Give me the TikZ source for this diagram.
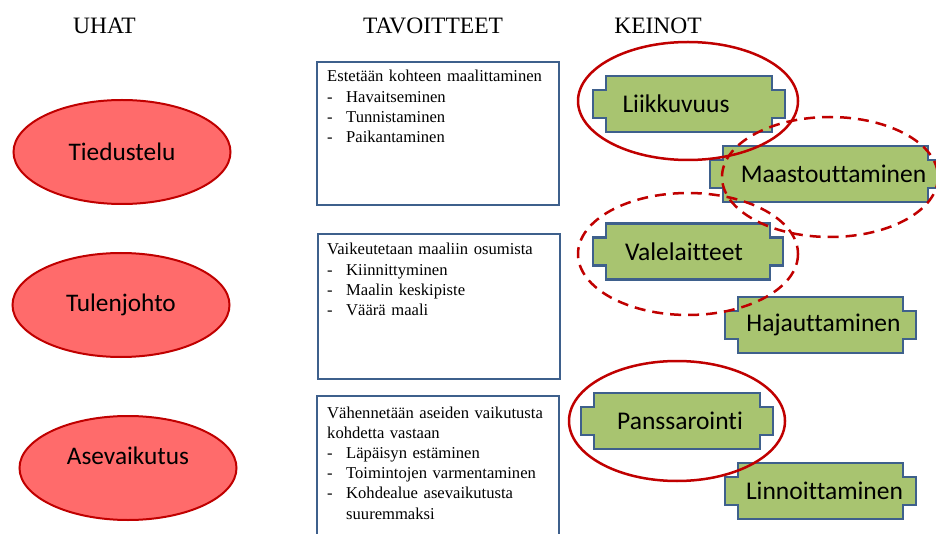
\documentclass[tikz,border=0pt]{standalone}
\usepackage{fontspec}
\setmainfont{Liberation Serif}
\newfontfamily\calibri[RawFeature={-liga}]{Carlito}
\usepackage{xcolor}
\definecolor{uhkapuna}{RGB}{255,107,107}
\definecolor{tummapuna}{RGB}{192,0,0}
\definecolor{keinovihrea}{RGB}{168,196,112}
\definecolor{reunasini}{RGB}{62,96,140}
\newcommand\kohta{\makebox[19pt][l]{-}}
\usetikzlibrary{positioning,shapes,calc}
\pgfdeclarelayer{bg}
\pgfsetlayers{bg,main}

\begin{document}
\begin{tikzpicture}[x = 1pt, y = -1pt,
  otsikko/.style = {anchor = base, inner sep = 0pt, font = \fontsize{23.5}{28}\selectfont},
  uhka/.style = {ellipse, draw = tummapuna, line width = 2pt, fill = uhkapuna, minimum width = 217pt, minimum height = 104pt, inner sep = 0pt, font = \calibri\fontsize{25.3}{28}\selectfont},
  tavoite/.style = {draw = reunasini, line width = 2pt, anchor = north west, minimum width = 242pt, inner sep = 0pt},
  tavteksti/.style = {anchor = base west, text width = 228pt, align = left, inner sep = 0pt, font = \fontsize{16.6}{20.2}\selectfont},
  keino/.style = {minimum height = 56pt, inner sep = 0pt, outer sep = 0pt, font = \calibri\fontsize{25.5}{28}\selectfont},
  keinoreuna/.style = {draw = reunasini, line width = 2.5pt, fill = keinovihrea},
  valinta/.style = {draw = tummapuna, line width = 2.5pt},
  katko/.style = {dash pattern = on 11pt off 7pt}]
\useasboundingbox (0,0) rectangle (936,534);
\node[otsikko] (uhat) at (104.5,34) {UHAT};
\node[otsikko] (tavoitteet) at (433,34) {TAVOITTEET};
\node[otsikko] (keinot) at (658,34) {KEINOT};
\node[uhka] (tied) at (122,152) {Tiedustelu};
\node[uhka] (tule) at (121,305) {Tulenjohto};
\node[uhka, text depth = 25pt] (ase) at (128,468) {Asevaikutus};
\node[tavoite, minimum height = 143pt] (tav1) at (316,61) {};
\node[tavoite, minimum height = 145pt] (tav2) at (317,233) {};
\node[tavoite, minimum height = 160pt] (tav3) at (316,395) {};
\node[tavteksti] (tav1teksti) at (327,82) {Estetään kohteen maalittaminen\\ \kohta Havaitseminen\\ \kohta Tunnistaminen\\ \kohta Paikantaminen};
\node[tavteksti] (tav2teksti) at (327,255) {Vaikeutetaan maaliin osumista\\ \kohta Kiinnittyminen\\ \kohta Maalin keskipiste\\ \kohta Väärä maali};
\node[tavteksti] (tav3teksti) at (327,418) {Vähennetään aseiden vaikutusta\\ kohdetta vastaan\\ \kohta Läpäisyn estäminen\\ \kohta Toimintojen varmentaminen\\ \kohta Kohdealue asevaikutusta\\ \hspace*{19pt}suuremmaksi};
\foreach \nimi/\kx/\ky/\lev/\siirto/\teksti in {liik/689/104/166/-26/Liikkuvuus, maas/825.5/174/205/16/Maastouttaminen, vale/688/251.5/164/-8/Valelaitteet, haja/820.5/325/165/6/Hajauttaminen, pans/677/421/166/6/Panssarointi, linn/820.5/491/165/8/Linnoittaminen}
{
  \node[keino, minimum width = \lev pt] (\nimi) at (\kx,\ky) {\hspace*{\siirto pt}\teksti};
  \begin{pgfonlayer}{bg}
  \draw[keinoreuna] (\nimi.north west) -- (\nimi.north east) -- ++(0,14) -- ++(13,0) -- ++(0,28) -- ++(-13,0) -- (\nimi.south east) -- (\nimi.south west) -- ++(0,-14) -- ++(-13,0) -- ++(0,-28) -- ++(13,0) -- cycle;
  \end{pgfonlayer}
}
\draw[valinta] (688,101) ellipse [x radius = 110, y radius = 59];
\draw[valinta, katko] (830,177) ellipse [x radius = 108, y radius = 60];
\draw[valinta, katko] (688,254) ellipse [x radius = 110, y radius = 61];
\draw[valinta] (677,421) ellipse [x radius = 108, y radius = 60];
\end{tikzpicture}
\end{document}
